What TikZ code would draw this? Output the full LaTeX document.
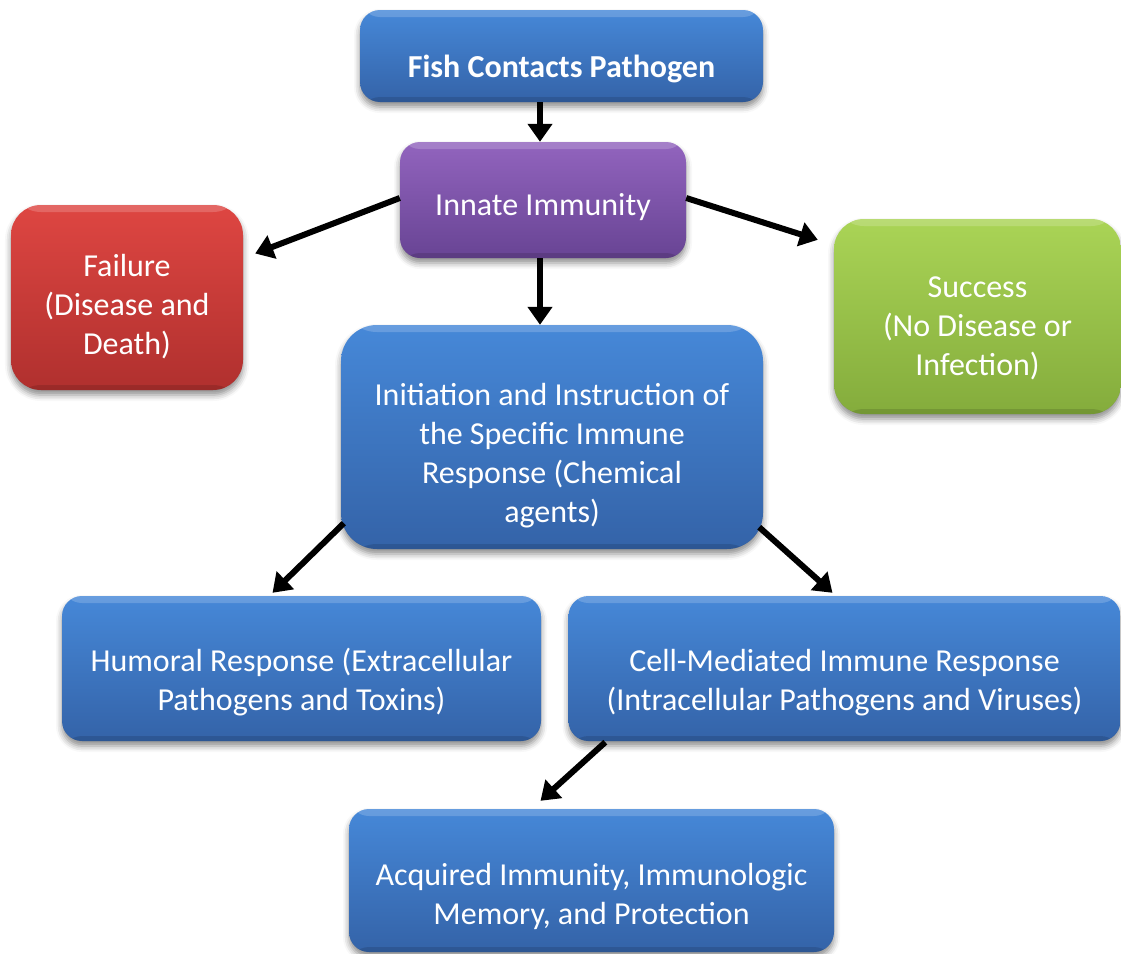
\documentclass[tikz,border=0pt]{standalone}
\usepackage{fontspec}
\setmainfont{Carlito}
\usetikzlibrary{arrows.meta,shadows.blur,calc}

\definecolor{blueTop}{RGB}{70,136,216}
\definecolor{blueBot}{RGB}{52,99,168}
\definecolor{purpTop}{RGB}{146,100,190}
\definecolor{purpBot}{RGB}{104,68,148}
\definecolor{redTop}{RGB}{222,70,66}
\definecolor{redBot}{RGB}{176,48,46}
\definecolor{grnTop}{RGB}{170,212,86}
\definecolor{grnBot}{RGB}{132,172,60}

% label text with a fixed top height and bottom depth, so the lines sit where wanted
\newcommand\boxtext[2]{\rule{0pt}{#1pt}#2\rule[-12pt]{0pt}{12pt}}

\begin{document}
\begin{tikzpicture}[x=1pt,y=1pt,
  box/.style={rounded corners=20pt, align=center, text=white, inner sep=0pt,
    font=\fontsize{32}{39}\selectfont,
    blur shadow={shadow xshift=0pt, shadow yshift=-5pt, shadow blur radius=6pt, shadow opacity=45},
    path picture={
      \fill[white,opacity=0.18] (path picture bounding box.north west) rectangle ([yshift=-7]path picture bounding box.north east);
      \fill[black,opacity=0.12] (path picture bounding box.south west) rectangle ([yshift=5]path picture bounding box.south east);
    }},
  bluebox/.style={box, top color=blueTop, bottom color=blueBot},
  purplebox/.style={box, top color=purpTop, bottom color=purpBot},
  redbox/.style={box, top color=redTop, bottom color=redBot, rounded corners=30pt},
  greenbox/.style={box, top color=grnTop, bottom color=grnBot, rounded corners=30pt},
  arr/.style={line width=6pt, -{Triangle[length=18pt,width=24pt]}}
]
\useasboundingbox (0,0) rectangle (1121,-953);

% boxes
\node[bluebox, minimum width=403, minimum height=92] (fish) at (561.5,-56)
  {\boxtext{55}{\bfseries Fish Contacts Pathogen}};
\node[purplebox, minimum width=286, minimum height=116] (innate) at (543,-200)
  {\boxtext{42}{Innate Immunity}};
\node[redbox, minimum width=232, minimum height=185] (fail) at (127,-297.5)
  {\boxtext{47}{Failure\\(Disease and\\Death)}};
\node[greenbox, minimum width=287, minimum height=195] (succ) at (977.5,-316.5)
  {\boxtext{51}{Success\\(No Disease or\\Infection)}};
\node[bluebox, rounded corners=36pt, minimum width=422, minimum height=224] (init) at (552,-437)
  {\boxtext{65}{Initiation and Instruction of\\the Specific Immune\\Response (Chemical\\agents)}};
\node[bluebox, minimum width=479, minimum height=145] (hum) at (301.5,-668.5)
  {\boxtext{56}{Humoral Response (Extracellular\\Pathogens and Toxins)}};
\node[bluebox, minimum width=552, minimum height=145] (cell) at (844.5,-668.5)
  {\boxtext{56}{Cell-Mediated Immune Response\\(Intracellular Pathogens and Viruses)}};
\node[bluebox, minimum width=485, minimum height=143] (acq) at (591.5,-880.5)
  {\boxtext{60}{Acquired Immunity, Immunologic\\Memory, and Protection}};

% connectors
\draw[arr] ([xshift=-3]innate.north |- fish.south) -- ([xshift=-3]innate.north);
\draw[arr] ([yshift=2]innate.west) -- ([shift={(12,44)}]fail.east);
\draw[arr] ([yshift=2]innate.east) -- ([shift={(-16,-21)}]succ.north west);
\draw[arr] ([xshift=-3]innate.south) -- ([xshift=-3]innate.south |- init.north);
\draw[arr] ([shift={(3,26)}]init.south west) -- ([shift={(-29,3)}]hum.north);
\draw[arr] ([shift={(-4,22)}]init.south east) -- ([shift={(-12,3)}]cell.north);
\draw[arr] ([shift={(37,-1)}]cell.south west) -- ([shift={(-51,8)}]acq.north);
\end{tikzpicture}
\end{document}
